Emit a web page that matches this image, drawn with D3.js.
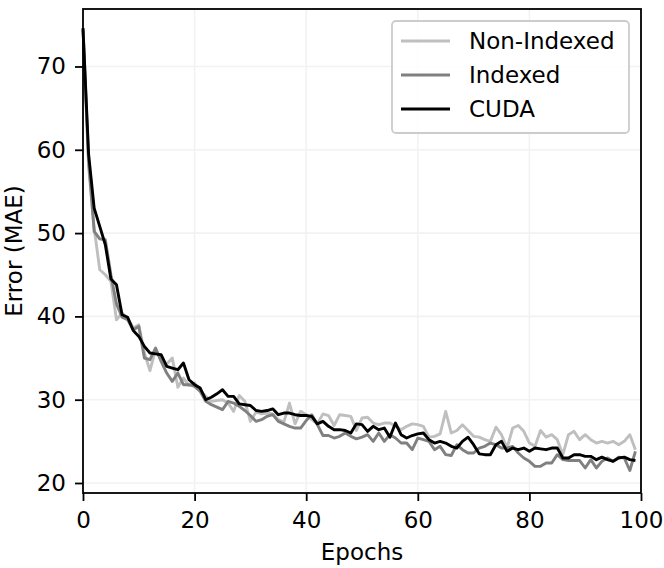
<!DOCTYPE html>
<html>
<head>
    <meta charset="utf-8">
    <title>Error vs Epochs</title>
    <script src="https://d3js.org/d3.v7.min.js"></script>
    <style>
        html, body {
            margin: 0;
            background: white;
        }

        svg text {
            font-family: "DejaVu Sans", sans-serif;
            font-size: 23px;
            fill: black;
        }
    </style>
</head>
<body>
    <svg id="svg"></svg>
    <script>
        const epochs = d3.range(0, 100);

        const nonIndexed = [
            74.4, 58.0, 50.6, 45.6, 45.0, 44.2, 39.6, 40.4, 39.8, 38.6,
            39.0, 35.6, 33.5, 36.0, 34.8, 34.3, 35.0, 31.5, 32.6, 31.7,
            32.0, 31.1, 30.4, 29.8, 29.9, 30.0, 29.6, 28.6, 30.5, 29.8,
            27.4, 28.5, 28.3, 28.4, 28.3, 27.6, 27.3, 29.6, 27.1, 28.6,
            28.2, 27.6, 27.1, 28.3, 28.1, 26.9, 28.2, 28.1, 28.0, 26.3,
            27.8, 27.9, 27.2, 27.0, 27.2, 27.2, 26.8, 26.4, 26.8, 27.1,
            27.0, 26.8, 25.5, 25.6, 25.9, 28.6, 26.0, 26.3, 27.0, 26.3,
            25.6, 25.5, 25.2, 25.0, 26.7, 25.8, 24.2, 26.6, 26.9, 26.2,
            24.8, 24.4, 26.3, 25.5, 25.8, 25.2, 23.4, 25.8, 26.2, 25.2,
            25.8, 25.2, 24.8, 25.0, 24.8, 25.0, 24.6, 25.0, 25.8, 24.0
        ];

        const indexed = [
            74.5, 58.8, 50.2, 49.3, 49.2, 45.0, 41.5, 39.9, 39.6, 38.4,
            38.8, 35.0, 34.8, 36.2, 34.6, 33.2, 32.2, 33.2, 31.8, 31.8,
            31.6, 31.0, 29.8, 29.4, 29.1, 28.8, 29.8, 29.6, 29.2, 28.7,
            28.1, 27.4, 27.6, 28.0, 28.2, 27.4, 27.1, 26.8, 26.6, 26.6,
            27.5, 28.2, 27.0, 25.7, 25.7, 25.4, 25.6, 26.0, 25.6, 25.3,
            25.5, 25.8, 25.0, 26.0, 25.0, 25.8, 25.4, 24.8, 24.8, 24.0,
            25.4, 25.2, 25.0, 24.0, 24.4, 23.4, 23.3, 24.6, 24.0, 23.6,
            23.6, 24.2, 24.4, 24.8, 24.6, 24.2, 24.2, 24.4, 23.6, 23.0,
            22.6, 22.0, 22.0, 22.4, 22.4, 23.4, 22.8, 22.7, 22.7, 22.7,
            21.8, 22.8, 21.8, 22.6, 23.0, 22.6, 23.1, 23.0, 21.5, 23.8
        ];

        const cuda = [
            74.6, 59.5, 53.0, 50.8, 48.6, 44.5, 43.8, 40.2, 39.9, 38.3,
            37.6, 36.4, 35.6, 35.5, 35.4, 34.0, 33.8, 33.6, 34.4, 32.4,
            31.8, 31.4, 30.0, 30.3, 30.7, 31.2, 30.4, 30.4, 29.5, 29.4,
            29.3, 28.7, 28.6, 28.7, 28.9, 28.2, 28.4, 28.4, 28.2, 28.1,
            28.1, 28.0, 27.1, 27.4, 26.8, 26.4, 26.4, 26.3, 26.0, 27.1,
            27.0, 26.2, 26.8, 26.4, 26.6, 25.5, 27.2, 25.8, 25.4, 25.7,
            25.9, 26.0, 25.2, 24.8, 25.0, 24.8, 24.4, 24.2, 25.0, 25.5,
            24.6, 23.5, 23.4, 23.4, 24.6, 25.0, 23.8, 24.2, 24.0, 24.2,
            23.8, 24.2, 24.1, 24.0, 24.2, 24.2, 23.0, 23.0, 23.4, 23.4,
            23.2, 23.2, 22.8, 23.1, 22.8, 22.6, 23.0, 23.1, 22.8, 22.7
        ];

        const seriesNames = ["Non-Indexed", "Indexed", "CUDA"];
        const seriesColors = ["#bfbfbf", "#808080", "#000000"];
        const xTicks = [0, 20, 40, 60, 80, 100];
        const yTicks = [20, 30, 40, 50, 60, 70];

        const width = 664, height = 568;
        const margins = { top: 9, left: 83, right: 23, bottom: 75 };
        const graphWidth = width - margins.left - margins.right;
        const graphHeight = height - margins.top - margins.bottom;

        const svg = d3.select("#svg")
            .attr("width", width)
            .attr("height", height);

        const scaleX = d3.scaleLinear()
            .domain([0, 100])
            .range([0, graphWidth]);

        const scaleY = d3.scaleLinear()
            .domain([18.8, 76.9])
            .range([graphHeight, 0]);

        const plot = svg.append("g")
            .attr("transform", `translate(${margins.left}, ${margins.top})`);

        // faint grid
        plot.append("g")
            .selectAll("line")
            .data(xTicks)
            .enter()
            .append("line")
            .attr("x1", d => scaleX(d))
            .attr("x2", d => scaleX(d))
            .attr("y1", 0)
            .attr("y2", graphHeight)
            .attr("stroke", "#f2f2f2")
            .attr("stroke-width", 1.6);

        plot.append("g")
            .selectAll("line")
            .data(yTicks)
            .enter()
            .append("line")
            .attr("x1", 0)
            .attr("x2", graphWidth)
            .attr("y1", d => scaleY(d))
            .attr("y2", d => scaleY(d))
            .attr("stroke", "#f2f2f2")
            .attr("stroke-width", 1.6);

        const data = [nonIndexed, indexed, cuda];

        const line = d3.line()
            .x((d, i) => scaleX(epochs[i]))
            .y(d => scaleY(d));

        plot.append("g")
            .selectAll("path")
            .data(data)
            .enter()
            .append("path")
            .attr("fill", "none")
            .attr("stroke", (d, i) => seriesColors[i])
            .attr("stroke-width", 2.9)
            .attr("stroke-linejoin", "round")
            .attr("d", d => line(d));

        // frame
        plot.append("rect")
            .attr("width", graphWidth)
            .attr("height", graphHeight)
            .attr("fill", "none")
            .attr("stroke", "black")
            .attr("stroke-width", 1.8);

        const xAxis = plot.append("g")
            .attr("transform", `translate(0, ${graphHeight})`)
            .call(d3.axisBottom(scaleX).tickValues(xTicks).tickSize(8).tickPadding(11));

        const yAxis = plot.append("g")
            .call(d3.axisLeft(scaleY).tickValues(yTicks).tickSize(8).tickPadding(9));

        [xAxis, yAxis].forEach(ax => {
            ax.select(".domain").remove();
            ax.selectAll(".tick line").attr("stroke", "black").attr("stroke-width", 1.8);
            ax.selectAll(".tick text")
                .style("font-family", "DejaVu Sans, sans-serif")
                .style("font-size", "23px");
        });

        svg.append("text")
            .attr("x", margins.left + graphWidth / 2)
            .attr("y", height - 8)
            .attr("text-anchor", "middle")
            .text("Epochs");

        svg.append("text")
            .attr("transform", `translate(22, ${margins.top + graphHeight / 2}) rotate(-90)`)
            .attr("text-anchor", "middle")
            .text("Error (MAE)");

        // legend
        const legend = svg.append("g")
            .attr("transform", "translate(392, 21)");

        legend.append("rect")
            .attr("width", 237)
            .attr("height", 112)
            .attr("rx", 4)
            .attr("fill", "white")
            .attr("fill-opacity", 0.8)
            .attr("stroke", "#cccccc")
            .attr("stroke-width", 1.8);

        const rows = legend.selectAll("g.row")
            .data(seriesNames)
            .enter()
            .append("g")
            .attr("transform", (d, i) => `translate(0, ${20 + i * 34})`);

        rows.append("line")
            .attr("x1", 9)
            .attr("x2", 58)
            .attr("stroke", (d, i) => seriesColors[i])
            .attr("stroke-width", 2.9);

        rows.append("text")
            .attr("x", 77)
            .attr("dy", "0.36em")
            .text(d => d);
    </script>
</body>
</html>
